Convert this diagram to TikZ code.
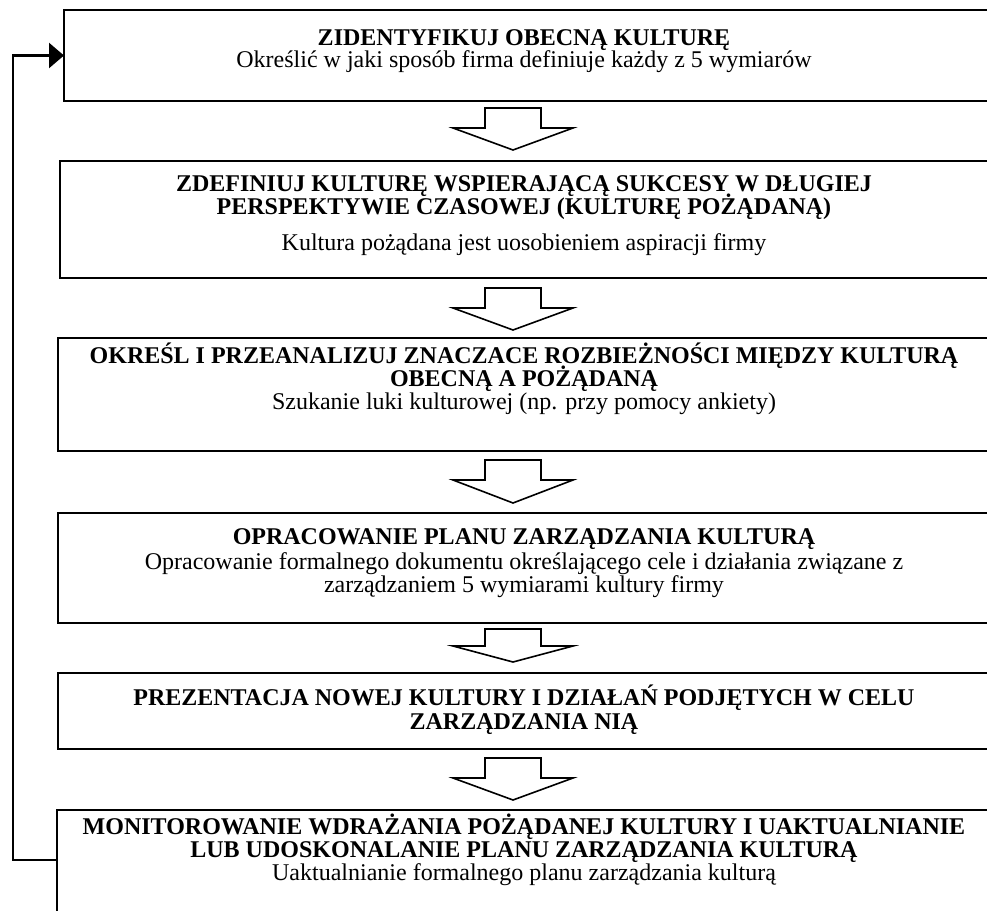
\documentclass[tikz,border=0pt]{standalone}
\usepackage{fontspec}
\setmainfont{LiberationSerif}[Extension=.ttf, UprightFont=*-Regular, BoldFont=*-Bold,
  ItalicFont=*-Italic, BoldItalicFont=*-BoldItalic]
\usetikzlibrary{arrows.meta}
\tikzset{
  stage/.style={draw=black, line width=2pt, fill=white, anchor=north west,
    minimum width=1000pt, inner sep=0pt, outer sep=0pt},
  head/.style={anchor=base, inner sep=0pt, font=\fontsize{24}{24}\selectfont\bfseries},
  note/.style={anchor=base, inner sep=0pt, font=\fontsize{24}{24}\selectfont},
  flow/.style={draw=black, line width=1.6pt, fill=white, line join=miter},
  loopback/.style={draw=black, line width=2.4pt, -{Triangle[length=15pt,width=25pt]}}
}
% hollow block arrow: centre x, top of stem, shoulders, tip
\newcommand\blockdown[4]{%
  \draw[flow] (#1-28,#2) -- (#1+28,#2) -- (#1+28,#3) -- (#1+60,#3)
    -- (#1,#4) -- (#1-60,#3) -- (#1-28,#3) -- cycle;}
\begin{document}
\begin{tikzpicture}[x=1pt,y=-1pt]
\clip (0,0) rectangle (987,910);
\fill[white] (0,0) rectangle (987,910);

% stage boxes
\node[stage, minimum height=91pt]  (b1) at (64,10)  {};
\node[stage, minimum height=117pt] (b2) at (60,161) {};
\node[stage, minimum height=113pt] (b3) at (58,338) {};
\node[stage, minimum height=110pt] (b4) at (58,513) {};
\node[stage, minimum height=76pt]  (b5) at (58,673) {};
\node[stage, minimum height=120pt] (b6) at (57,810) {};

% texts
\node[head] (t1a) at (524,45)  {ZIDENTYFIKUJ OBECNĄ KULTURĘ};
\node[note] (t1b) at (524,67)  {Określić w jaki sposób firma definiuje każdy z 5 wymiarów};

\node[head] (t2a) at (524,191) {ZDEFINIUJ KULTURĘ WSPIERAJĄCĄ SUKCESY W DŁUGIEJ};
\node[head] (t2b) at (524,214) {PERSPEKTYWIE CZASOWEJ (KULTURĘ POŻĄDANĄ)};
\node[note] (t2c) at (524,250) {Kultura pożądana jest uosobieniem aspiracji firmy};

\node[head] (t3a) at (524,363) {OKREŚL I PRZEANALIZUJ ZNACZACE ROZBIEŻNOŚCI MIĘDZY KULTURĄ};
\node[head] (t3b) at (524,386) {OBECNĄ A POŻĄDANĄ};
\node[note] (t3c) at (524,409) {Szukanie luki kulturowej (np. przy pomocy ankiety)};

\node[head] (t4a) at (524,544) {OPRACOWANIE PLANU ZARZĄDZANIA KULTURĄ};
\node[note] (t4b) at (524,569) {Opracowanie formalnego dokumentu określającego cele i działania związane z};
\node[note] (t4c) at (524,592) {zarządzaniem 5 wymiarami kultury firmy};

\node[head] (t5a) at (524,705) {PREZENTACJA NOWEJ KULTURY I DZIAŁAŃ PODJĘTYCH W CELU};
\node[head] (t5b) at (524,729) {ZARZĄDZANIA NIĄ};

\node[head] (t6a) at (524,834) {MONITOROWANIE WDRAŻANIA POŻĄDANEJ KULTURY I UAKTUALNIANIE};
\node[head] (t6b) at (524,857) {LUB UDOSKONALANIE PLANU ZARZĄDZANIA KULTURĄ};
\node[note] (t6c) at (524,880) {Uaktualnianie formalnego planu zarządzania kulturą};

% block arrows between stages
\blockdown{513}{108}{128}{150}
\blockdown{513}{288}{308}{330}
\blockdown{513}{460}{480}{503}
\blockdown{513}{629}{646}{662}
\blockdown{513}{758}{778}{800}

% feedback loop from the last stage back to the first
\draw[loopback] ([yshift=-50pt]b6.north west) -- ++(-44,0) |- (b1.west);
\end{tikzpicture}
\end{document}
